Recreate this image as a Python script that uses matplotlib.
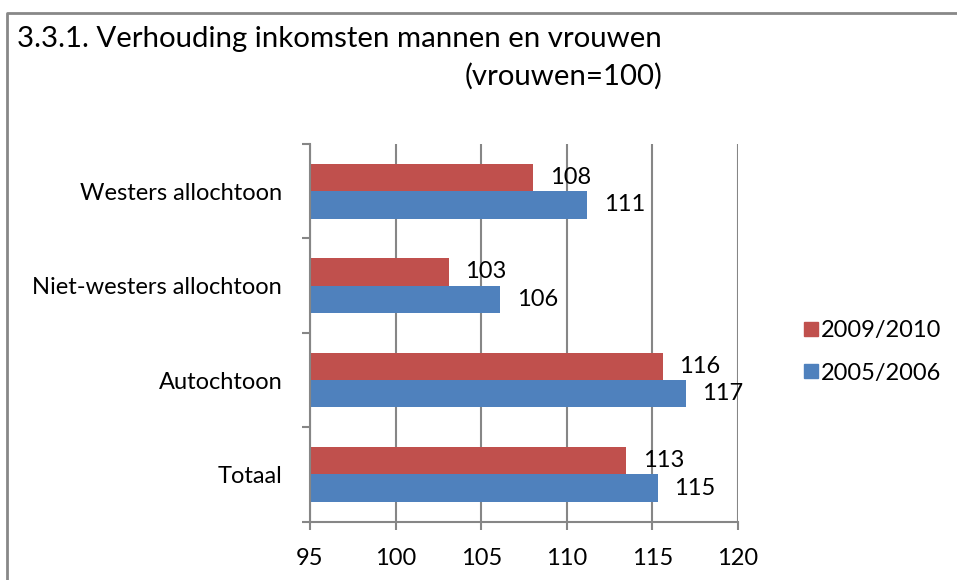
import matplotlib.pyplot as plt
import numpy as np
from matplotlib.lines import Line2D

plt.rcParams['font.family'] = ['Lato', 'DejaVu Sans']

categories = ['Totaal', 'Autochtoon', 'Niet-westers allochtoon', 'Westers allochtoon']
v2009 = [113.45, 115.6, 103.1, 108.05]
v2005 = [115.3, 116.95, 106.1, 111.2]
series_names = ['2009/2010', '2005/2006']
xticks = [95, 100, 105, 110, 115, 120]

red = '#C0504D'
blue = '#4F81BD'
grey = '#868686'

fig = plt.figure(figsize=(9.57, 5.8), dpi=100)
ax = fig.add_axes([0.3239, 0.1005, 0.4473, 0.6512])

y = np.arange(len(categories))
h = 0.29
b1 = ax.barh(y + h / 2, np.array(v2009) - 95, h, left=95, color=red)
b2 = ax.barh(y - h / 2, np.array(v2005) - 95, h, left=95, color=blue)

for bars, vals in ((b1, v2009), (b2, v2005)):
    for r, v in zip(bars, vals):
        ax.annotate('%.0f' % v, (v, r.get_y() + r.get_height() / 2),
                    xytext=(12, 0), textcoords='offset points',
                    va='center', ha='left', fontsize=17)

ax.set_xlim(95, 120)
ax.set_ylim(-0.5, len(categories) - 0.5)
ax.set_xticks(xticks)
ax.set_xticklabels([str(t) for t in xticks], fontsize=17)
ax.set_yticks(y)
ax.set_yticklabels(categories, fontsize=17)
ax.set_yticks(np.arange(-0.5, len(categories), 1), minor=True)
ax.tick_params(axis='y', which='major', length=0, pad=20)
ax.tick_params(axis='y', which='minor', length=6, color=grey, width=1.5)
ax.tick_params(axis='x', length=6, color=grey, width=1.5, pad=13)
ax.grid(axis='x', color=grey, linewidth=1.5)
ax.set_axisbelow(True)
for s in ('top', 'right'):
    ax.spines[s].set_visible(False)
for s in ('left', 'bottom'):
    ax.spines[s].set_color(grey)
    ax.spines[s].set_linewidth(1.5)

fig.text(17 / 957, 1 - 47 / 580, '3.3.1. Verhouding inkomsten mannen en vrouwen',
         fontsize=21.2, va='baseline', ha='left')
fig.text(663 / 957, 1 - 85 / 580, '(vrouwen=100)', fontsize=21.2, va='baseline', ha='right')

handles = [Line2D([], [], marker='s', linestyle='none', markersize=10, color=red),
           Line2D([], [], marker='s', linestyle='none', markersize=10, color=blue)]
fig.legend(handles, series_names, loc='center left', bbox_to_anchor=(790 / 957, 1 - 352 / 580),
           frameon=False, fontsize=17, handletextpad=0.0, labelspacing=0.9,
           handlelength=0.8, borderpad=0)

# outer border of the chart (left and top edges only are in view)
bx = [7.5 / 957, 7.5 / 957, 1.0]
by = [0, 1 - 13 / 580, 1 - 13 / 580]
fig.add_artist(Line2D(bx, by, color='#888888', linewidth=2, transform=fig.transFigure))

fig.savefig('out.png', dpi=100)
